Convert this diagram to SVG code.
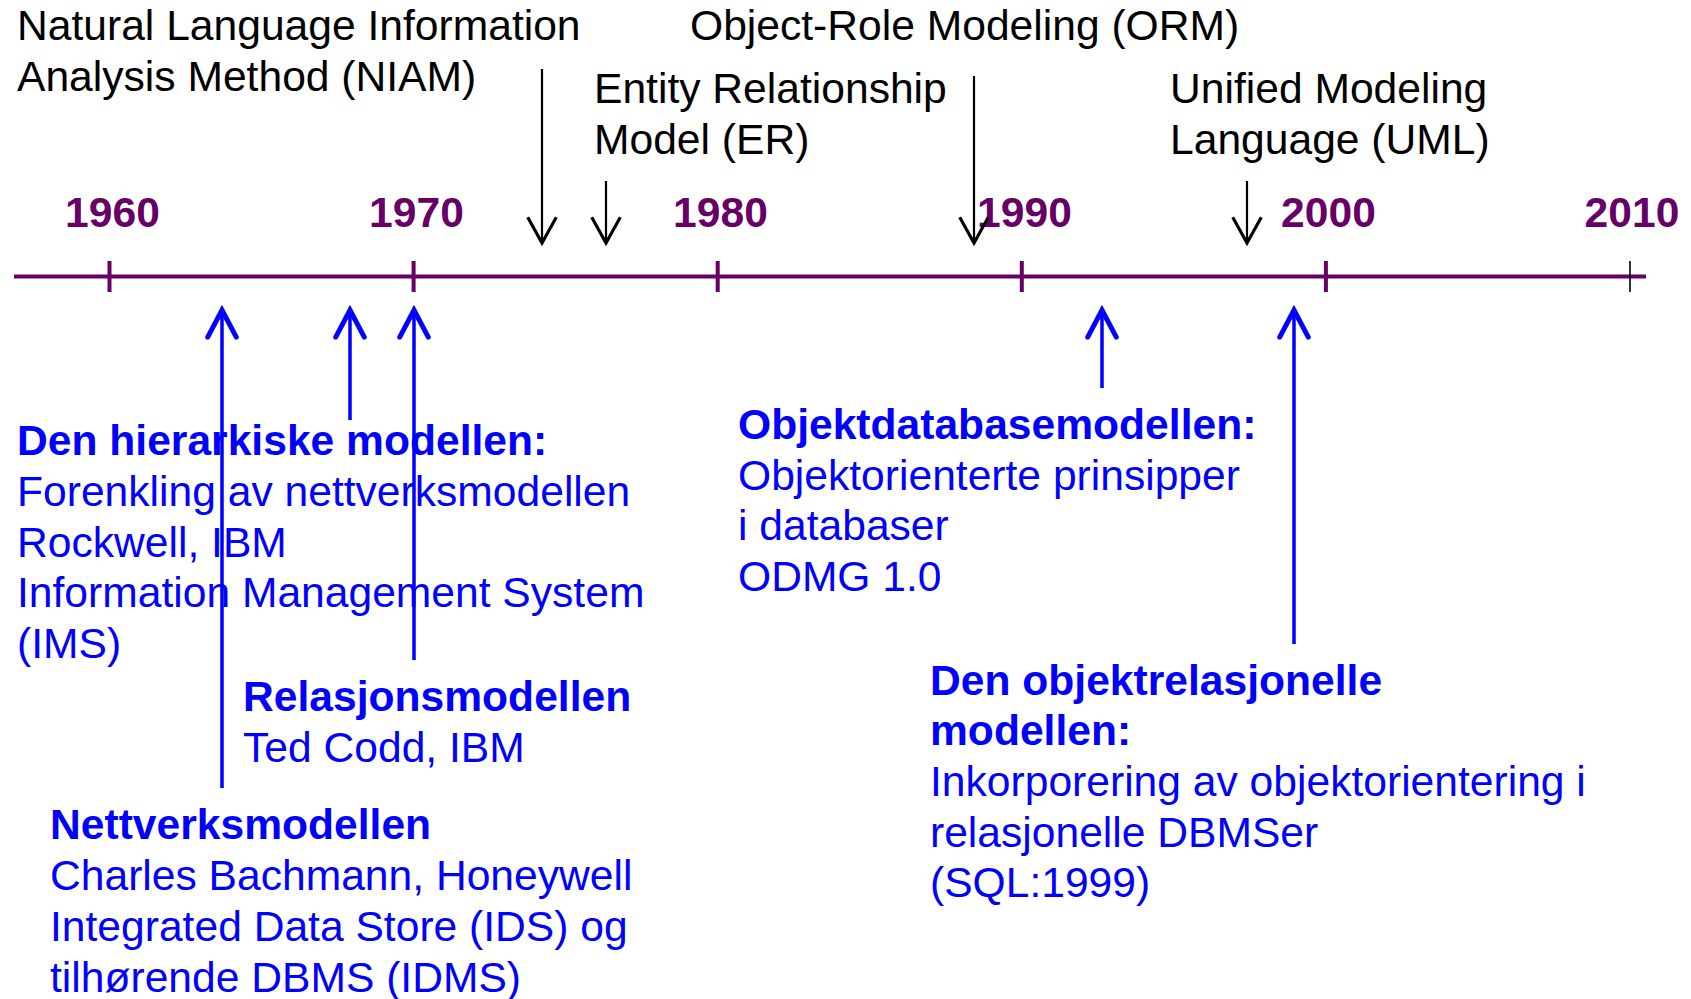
<svg xmlns="http://www.w3.org/2000/svg" width="1691" height="999" viewBox="0 0 1691 999">
<style>
text{font-family:"Liberation Sans",Arial,sans-serif;font-size:42.6px}
.blk{fill:#000}
.yr{fill:#660066;font-weight:bold;text-anchor:middle}
.blu{fill:#0000FF}
.b{font-weight:bold}
.axis{stroke:#660066;stroke-width:4;fill:none}
.tick{stroke:#660066;stroke-width:4}
.darr{stroke:#000;stroke-width:2.2;fill:none;marker-end:url(#mb)}
.uarr{stroke:#0000FF;stroke-width:3.5;fill:none;marker-end:url(#mu)}
</style>
<defs>
<marker id="mb" markerUnits="userSpaceOnUse" markerWidth="40" markerHeight="40" viewBox="-22 -14 26 28" refX="0" refY="0" orient="auto">
<path d="M-18,-10 L0,0 L-18,10" fill="none" stroke="#000" stroke-width="2.2"/>
</marker>
<marker id="mu" markerUnits="userSpaceOnUse" markerWidth="40" markerHeight="40" viewBox="-24 -14 28 28" refX="0" refY="0" orient="auto">
<path d="M-19,-10 L0,0 L-19,10" fill="none" stroke="#0000FF" stroke-width="3.5" stroke-linecap="round" stroke-linejoin="miter"/>
</marker>
</defs>
<rect width="1691" height="999" fill="#fff"/>
<g id="timeline">
<line class="axis" x1="14" y1="276.5" x2="1646" y2="276.5"/>
<line class="tick" x1="109.5" y1="261" x2="109.5" y2="292"/>
<line class="tick" x1="413.6" y1="261" x2="413.6" y2="292"/>
<line class="tick" x1="717.7" y1="261" x2="717.7" y2="292"/>
<line class="tick" x1="1021.8" y1="261" x2="1021.8" y2="292"/>
<line class="tick" x1="1325.9" y1="261" x2="1325.9" y2="292"/>
<line x1="1630" y1="261" x2="1630" y2="292" stroke="#000" stroke-width="1.6"/>
<text class="yr" x="112.5" y="227">1960</text>
<text class="yr" x="416.5" y="227">1970</text>
<text class="yr" x="720.5" y="227">1980</text>
<text class="yr" x="1024.5" y="227">1990</text>
<text class="yr" x="1328.5" y="227">2000</text>
<text class="yr" x="1632" y="227">2010</text>
</g>
<g id="niam">
<text class="blk" x="17" y="40">Natural Language Information</text>
<text class="blk" x="17" y="91">Analysis Method (NIAM)</text>
</g>
<g id="orm">
<text class="blk" x="690" y="40">Object-Role Modeling (ORM)</text>
</g>
<g id="er">
<text class="blk" x="594" y="103">Entity Relationship</text>
<text class="blk" x="594" y="154">Model (ER)</text>
</g>
<g id="uml">
<text class="blk" x="1170" y="103">Unified Modeling</text>
<text class="blk" x="1170" y="154">Language (UML)</text>
</g>
<g id="hierarkisk">
<text class="blu b" x="17" y="455">Den hierarkiske modellen:</text>
<text class="blu" x="17" y="506">Forenkling av nettverksmodellen</text>
<text class="blu" x="17" y="557">Rockwell, IBM</text>
<text class="blu" x="17" y="607">Information Management System</text>
<text class="blu" x="17" y="658">(IMS)</text>
</g>
<g id="relasjon">
<text class="blu b" x="243" y="711">Relasjonsmodellen</text>
<text class="blu" x="243" y="762">Ted Codd, IBM</text>
</g>
<g id="nettverk">
<text class="blu b" x="50" y="839">Nettverksmodellen</text>
<text class="blu" x="50" y="890">Charles Bachmann, Honeywell</text>
<text class="blu" x="50" y="941">Integrated Data Store (IDS) og</text>
<text class="blu" x="50" y="992">tilhørende DBMS (IDMS)</text>
</g>
<g id="objektdatabase">
<text class="blu b" x="738" y="439">Objektdatabasemodellen:</text>
<text class="blu" x="738" y="490">Objektorienterte prinsipper</text>
<text class="blu" x="738" y="540">i databaser</text>
<text class="blu" x="738" y="591">ODMG 1.0</text>
</g>
<g id="objektrelasjonell">
<text class="blu b" x="930" y="695">Den objektrelasjonelle</text>
<text class="blu b" x="930" y="745">modellen:</text>
<text class="blu" x="930" y="796">Inkorporering av objektorientering i</text>
<text class="blu" x="930" y="847">relasjonelle DBMSer</text>
<text class="blu" x="930" y="897">(SQL:1999)</text>
</g>
<g id="connectors">
<line class="darr" x1="542" y1="69" x2="542" y2="243"/>
<line class="darr" x1="606" y1="181" x2="606" y2="243"/>
<line class="darr" x1="974" y1="76" x2="974" y2="243"/>
<line class="darr" x1="1247" y1="181" x2="1247" y2="243"/>
<line class="uarr" x1="222" y1="788" x2="222" y2="310"/>
<line class="uarr" x1="350" y1="420" x2="350" y2="310"/>
<line class="uarr" x1="414" y1="660" x2="414" y2="310"/>
<line class="uarr" x1="1102" y1="388" x2="1102" y2="310"/>
<line class="uarr" x1="1294" y1="644" x2="1294" y2="310"/>
</g>
</svg>
